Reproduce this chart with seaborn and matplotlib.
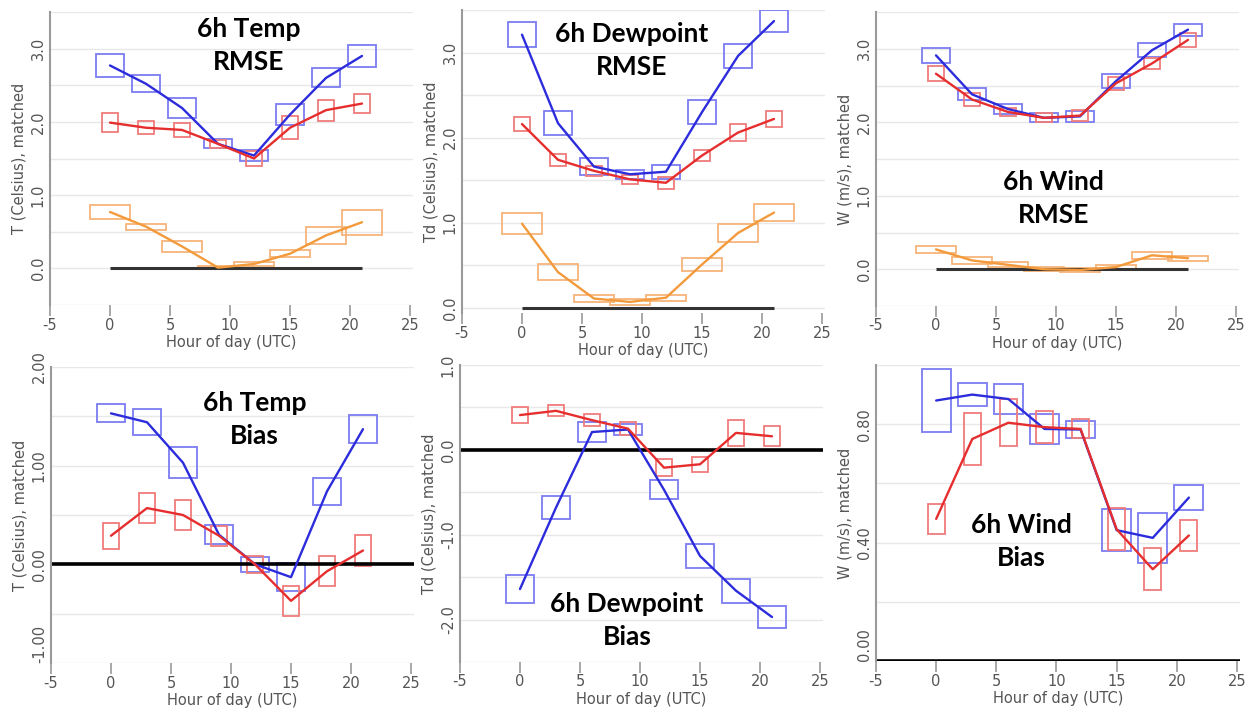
import numpy as np
import pandas as pd
import seaborn as sns
import matplotlib.pyplot as plt
from matplotlib.patches import Rectangle

# ---------------------------------------------------------------------------
# Data (value + box height per hour)
# ---------------------------------------------------------------------------
hours = [0, 3, 6, 9, 12, 15, 18, 21]

# 6h Temp RMSE
t_rmse_blue = [2.77, 2.52, 2.19, 1.70, 1.54, 2.10, 2.60, 2.90]
t_rmse_blue_h = [0.31, 0.23, 0.27, 0.12, 0.14, 0.28, 0.26, 0.30]
t_rmse_red = [1.99, 1.92, 1.89, 1.70, 1.50, 1.92, 2.16, 2.25]
t_rmse_red_h = [0.27, 0.18, 0.20, 0.11, 0.20, 0.31, 0.29, 0.25]
t_rmse_orange = [0.77, 0.57, 0.30, 0.01, 0.06, 0.20, 0.45, 0.63]
t_rmse_orange_h = [0.20, 0.08, 0.14, 0.05, 0.05, 0.10, 0.23, 0.34]

# 6h Dewpoint RMSE
td_rmse_blue = [3.21, 2.17, 1.66, 1.57, 1.60, 2.30, 2.96, 3.37]
td_rmse_blue_h = [0.30, 0.28, 0.20, 0.10, 0.16, 0.28, 0.28, 0.25]
td_rmse_red = [2.16, 1.74, 1.61, 1.51, 1.47, 1.79, 2.06, 2.22]
td_rmse_red_h = [0.16, 0.14, 0.12, 0.10, 0.14, 0.13, 0.20, 0.18]
td_rmse_orange = [0.99, 0.42, 0.11, 0.07, 0.12, 0.51, 0.88, 1.12]
td_rmse_orange_h = [0.24, 0.19, 0.09, 0.08, 0.07, 0.15, 0.20, 0.19]

# 6h Wind RMSE
w_rmse_blue = [2.91, 2.38, 2.18, 2.06, 2.08, 2.56, 2.98, 3.26]
w_rmse_blue_h = [0.20, 0.16, 0.14, 0.12, 0.14, 0.18, 0.19, 0.16]
w_rmse_red = [2.66, 2.31, 2.14, 2.06, 2.09, 2.53, 2.80, 3.12]
w_rmse_red_h = [0.20, 0.17, 0.11, 0.12, 0.15, 0.17, 0.16, 0.19]
w_rmse_orange = [0.27, 0.12, 0.06, 0.00, -0.01, 0.03, 0.19, 0.15]
w_rmse_orange_h = [0.09, 0.09, 0.07, 0.05, 0.05, 0.06, 0.09, 0.07]

# 6h Temp Bias
t_bias_blue = [1.53, 1.44, 1.03, 0.30, 0.00, -0.13, 0.74, 1.37]
t_bias_blue_h = [0.18, 0.26, 0.32, 0.19, 0.15, 0.29, 0.28, 0.28]
t_bias_red = [0.29, 0.57, 0.50, 0.29, 0.00, -0.37, -0.07, 0.14]
t_bias_red_h = [0.26, 0.31, 0.30, 0.20, 0.17, 0.30, 0.30, 0.32]

# 6h Dewpoint Bias
td_bias_blue = [-1.64, -0.68, 0.21, 0.24, -0.47, -1.25, -1.66, -1.97]
td_bias_blue_h = [0.33, 0.28, 0.23, 0.13, 0.23, 0.29, 0.28, 0.26]
td_bias_red = [0.41, 0.46, 0.35, 0.25, -0.21, -0.17, 0.20, 0.16]
td_bias_red_h = [0.18, 0.13, 0.14, 0.15, 0.20, 0.18, 0.31, 0.24]

# 6h Wind Bias
w_bias_blue = [0.880, 0.900, 0.885, 0.784, 0.782, 0.442, 0.416, 0.552]
w_bias_blue_h = [0.21, 0.08, 0.10, 0.10, 0.06, 0.14, 0.17, 0.085]
w_bias_red = [0.480, 0.750, 0.805, 0.790, 0.784, 0.445, 0.310, 0.424]
w_bias_red_h = [0.10, 0.175, 0.158, 0.11, 0.064, 0.143, 0.143, 0.107]

# ---------------------------------------------------------------------------
# Styling
# ---------------------------------------------------------------------------
sns.set_theme(style="white")
plt.rcParams["font.family"] = ["DejaVu Sans"]
plt.rcParams["axes.unicode_minus"] = False

BLUE = ("#2c2cdc", "#7c7cf2", 2.4)     # line colour, box colour, box width (h)
RED = ("#e62e2e", "#f07c7c", 1.4)
ORANGE = ("#f29a3c", "#f6b47a", 3.3)
GREY = "#555555"

W, H = 1251, 709
fig = plt.figure(figsize=(W / 100, H / 100), dpi=100)


def add_axes(l, t, r, b):
    return fig.add_axes([l / W, 1 - b / H, (r - l) / W, (b - t) / H])


def draw_panel(ax, series, ylim, grid_ticks, label_ticks, fmt, ylabel,
               title, title_pos, full_zero, bottom_label_up=False):
    rows = []
    for name, (values, heights, style) in series.items():
        line_c, box_c, box_w = style
        for hr, v, bh in zip(hours, values, heights):
            ax.add_patch(Rectangle((hr - box_w / 2, v - bh / 2), box_w, bh,
                                   fill=False, edgecolor=box_c, lw=1.3,
                                   zorder=2))
        for hr, v in zip(hours, values):
            rows.append({"hour": hr, "value": v, "series": name})
    df = pd.DataFrame(rows)
    palette = {name: s[2][0] for name, s in series.items()}
    sns.lineplot(data=df, x="hour", y="value", hue="series", palette=palette,
                 legend=False, ax=ax, lw=1.7, zorder=3)

    if full_zero:
        ax.axhline(0, color="black", lw=2.6, zorder=2.5)
    else:
        ax.hlines(0, hours[0], hours[-1], color="#333333", lw=2.2, zorder=2.5)

    ax.set_xlim(-5, 25.25)
    ax.set_ylim(*ylim)
    ax.set_xticks(range(-5, 26, 5))
    ax.set_yticks(grid_ticks)
    ax.set_yticklabels([fmt.format(t) if any(abs(t - lt) < 1e-9 for lt in label_ticks)
                        else "" for t in grid_ticks])
    ax.yaxis.grid(True, color="#e8e8e8", lw=1.0)
    ax.xaxis.grid(False)
    ax.set_axisbelow(True)

    for side in ["top", "right", "bottom"]:
        ax.spines[side].set_visible(False)
    ax.spines["left"].set_color("#9a9a9a")
    ax.spines["left"].set_linewidth(1.5)

    ax.tick_params(axis="x", bottom=True, direction="out", length=8, width=1.2,
                   color="#9a9a9a", labelsize=10.5, labelcolor=GREY, pad=1)
    ax.tick_params(axis="y", left=False, length=0, labelsize=10.5,
                   labelcolor=GREY, labelrotation=90, pad=3)
    labels = ax.get_yticklabels()
    for lab in labels:
        lab.set_verticalalignment("center")
    if bottom_label_up:
        labels[0].set_verticalalignment("bottom")

    ax.set_xlabel("Hour of day (UTC)", fontsize=10.5, color=GREY, labelpad=2)
    ax.set_ylabel(ylabel, fontsize=10.5, color=GREY, labelpad=3)
    ax.text(title_pos[0], title_pos[1], title, transform=ax.transAxes,
            ha="center", va="center", fontsize=19, fontweight="bold",
            family="Lato", color="black", linespacing=1.45, zorder=5)


rmse_grid = [-0.5, 0.0, 0.5, 1.0, 1.5, 2.0, 2.5, 3.0, 3.5]

ax1 = add_axes(50, 12, 413, 305)
draw_panel(ax1, {"blue": (t_rmse_blue, t_rmse_blue_h, BLUE),
                 "red": (t_rmse_red, t_rmse_red_h, RED),
                 "orange": (t_rmse_orange, t_rmse_orange_h, ORANGE)},
           (-0.5, 3.5), rmse_grid, [0, 1, 2, 3], "{:.1f}",
           "T (Celsius), matched", "6h Temp\nRMSE", (0.547, 0.887), False)

ax2 = add_axes(462, 10, 825, 313)
draw_panel(ax2, {"blue": (td_rmse_blue, td_rmse_blue_h, BLUE),
                 "red": (td_rmse_red, td_rmse_red_h, RED),
                 "orange": (td_rmse_orange, td_rmse_orange_h, ORANGE)},
           (-0.06, 3.5), rmse_grid[1:], [0, 1, 2, 3], "{:.1f}",
           "Td (Celsius), matched", "6h Dewpoint\nRMSE", (0.467, 0.865), False)

ax3 = add_axes(876, 12, 1239, 306)
draw_panel(ax3, {"blue": (w_rmse_blue, w_rmse_blue_h, BLUE),
                 "red": (w_rmse_red, w_rmse_red_h, RED),
                 "orange": (w_rmse_orange, w_rmse_orange_h, ORANGE)},
           (-0.5, 3.5), rmse_grid, [0, 1, 2, 3], "{:.1f}",
           "W (m/s), matched", "6h Wind\nRMSE", (0.489, 0.367), False)

ax4 = add_axes(51, 367, 414, 663)
draw_panel(ax4, {"blue": (t_bias_blue, t_bias_blue_h, BLUE),
                 "red": (t_bias_red, t_bias_red_h, RED)},
           (-1.0, 2.0), [-1.0, -0.5, 0.0, 0.5, 1.0, 1.5, 2.0], [-1, 0, 1, 2],
           "{:.2f}", "T (Celsius), matched", "6h Temp\nBias", (0.561, 0.821),
           True, bottom_label_up=True)

ax5 = add_axes(460, 365, 823, 662)
draw_panel(ax5, {"blue": (td_bias_blue, td_bias_blue_h, BLUE),
                 "red": (td_bias_red, td_bias_red_h, RED)},
           (-2.5, 1.0), [-2.5, -2.0, -1.5, -1.0, -0.5, 0.0, 0.5, 1.0],
           [-2, -1, 0, 1], "{:.1f}", "Td (Celsius), matched",
           "6h Dewpoint\nBias", (0.46, 0.141), True)

ax6 = add_axes(876, 365, 1240, 661)
draw_panel(ax6, {"blue": (w_bias_blue, w_bias_blue_h, BLUE),
                 "red": (w_bias_red, w_bias_red_h, RED)},
           (0.0, 1.0), [0.0, 0.2, 0.4, 0.6, 0.8, 1.0], [0.0, 0.4, 0.8],
           "{:.2f}", "W (m/s), matched", "6h Wind\nBias", (0.399, 0.405),
           True, bottom_label_up=True)

fig.savefig("out.png", dpi=100)
